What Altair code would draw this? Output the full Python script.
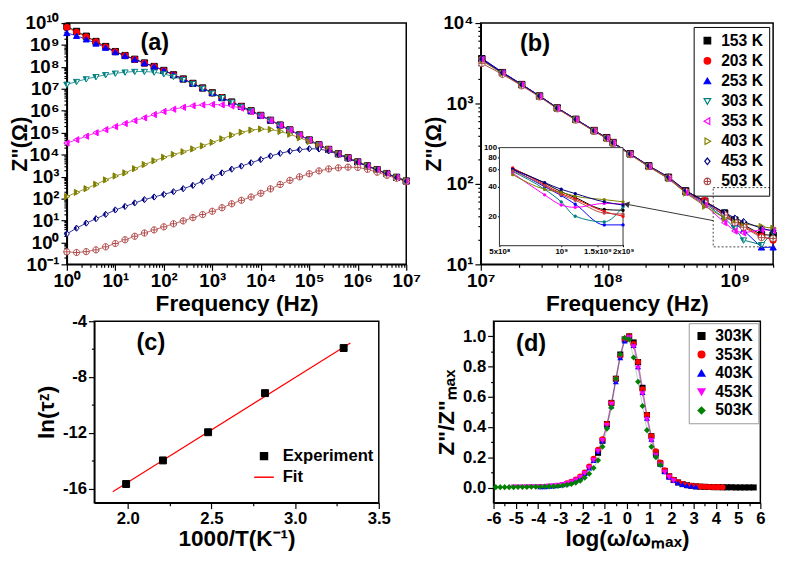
import json
import pandas as pd
import altair as alt

FONT = "Liberation Sans"

# ---------------- series styling (a), (b) ----------------
TEMPS = ["153 K", "203 K", "253 K", "303 K", "353 K", "403 K", "453 K", "503 K"]
COLORS = ["#000000", "#ff0000", "#0000ff", "#008080", "#ff00ff", "#808000", "#000080", "#b04848"]
FILLS = ["#000000", "#ff0000", "#0000ff", "white", "white", "white", "white", "white"]
TRI_DOWN = "M-1,-0.72L1,-0.72L0,1Z"
TRI_LEFT = "M-1,0L0.72,-1L0.72,1Z"
TRI_RIGHT = "M1,0L-0.72,-1L-0.72,1Z"
DIAMOND = "M0,-1L0.8,0L0,1L-0.8,0Z"
CIRC_PLUS = "M-1,0A1,1,0,1,1,1,0A1,1,0,1,1,-1,0Z M-1,0L1,0 M0,-1L0,1"
SHAPES = ["square", "circle", "triangle-up", TRI_DOWN, TRI_LEFT, TRI_RIGHT, DIAMOND, CIRC_PLUS]
HALF = {
    "303 K": "M-1,-0.72L0,-0.72L0,1Z",
    "353 K": "M-0.14,-0.5L0.72,-1L0.72,1L-0.14,0.5Z",
    "403 K": "M-0.72,-1L0.14,-0.5L0.14,0.5L-0.72,1Z",
    "453 K": "M0,-1L0,1L-0.8,0Z",
}

# ---------------- panel (a): log10 frequency / log10 Z'' ----------------
A_LOGF = [0.0, 0.2, 0.4, 0.6, 0.8, 1.0, 1.2, 1.4, 1.6, 1.8, 2.0, 2.2, 2.4, 2.6, 2.8, 3.0, 3.2, 3.4,
          3.6, 3.8, 4.0, 4.2, 4.4, 4.6, 4.8, 5.0, 5.2, 5.4, 5.6, 5.8, 6.0, 6.2, 6.4, 6.6, 6.8, 7.0]
a_153 = [9.85, 9.62, 9.40, 9.16, 8.93, 8.70, 8.52, 8.35, 8.18, 8.02, 7.84, 7.64, 7.45, 7.25, 7.04, 6.82, 6.60, 6.40,
         6.20, 6.00, 5.79, 5.57, 5.35, 5.13, 4.90, 4.67, 4.45, 4.24, 4.04, 3.86, 3.67, 3.49, 3.32, 3.14, 2.97, 2.80]
a_203 = [9.80, 9.58, 9.37, 9.14, 8.91, 8.69, 8.51, 8.34, 8.17, 8.01, 7.83, 7.63, 7.44, 7.24, 7.03, 6.81, 6.60, 6.39,
         6.19, 5.99, 5.78, 5.56, 5.34, 5.12, 4.89, 4.66, 4.44, 4.23, 4.03, 3.85, 3.66, 3.48, 3.31, 3.13, 2.96, 2.79]
a_253 = [9.55, 9.42, 9.26, 9.07, 8.88, 8.68, 8.51, 8.35, 8.18, 8.02, 7.85, 7.65, 7.45, 7.25, 7.04, 6.82, 6.60, 6.40,
         6.20, 6.00, 5.79, 5.57, 5.35, 5.13, 4.90, 4.67, 4.45, 4.24, 4.04, 3.86, 3.67, 3.49, 3.32, 3.14, 2.97, 2.80]
a_303 = [7.20, 7.33, 7.45, 7.55, 7.64, 7.71, 7.76, 7.79, 7.79, 7.76, 7.68, 7.56, 7.42, 7.23, 7.02, 6.80, 6.59, 6.39,
         6.19, 5.99, 5.78, 5.56, 5.34, 5.12, 4.89, 4.66, 4.44, 4.23, 4.03, 3.85, 3.66, 3.48, 3.31, 3.13, 2.96, 2.79]
a_353 = [4.53, 4.68, 4.84, 5.00, 5.14, 5.28, 5.42, 5.55, 5.68, 5.83, 5.97, 6.07, 6.16, 6.23, 6.27, 6.29, 6.27, 6.22,
         6.12, 5.96, 5.77, 5.56, 5.34, 5.12, 4.89, 4.66, 4.44, 4.23, 4.03, 3.85, 3.66, 3.48, 3.31, 3.13, 2.96, 2.79]
a_403 = [2.09, 2.28, 2.45, 2.65, 2.85, 3.03, 3.17, 3.36, 3.55, 3.72, 3.88, 4.01, 4.13, 4.26, 4.40, 4.56, 4.72, 4.89,
         5.02, 5.12, 5.17, 5.15, 5.06, 4.93, 4.77, 4.60, 4.42, 4.23, 4.03, 3.85, 3.66, 3.48, 3.31, 3.13, 2.96, 2.79]
a_453 = [0.39, 0.65, 0.88, 1.08, 1.28, 1.48, 1.64, 1.80, 1.95, 2.07, 2.19, 2.31, 2.45, 2.60, 2.79, 2.98, 3.17, 3.34,
         3.48, 3.63, 3.78, 3.94, 4.06, 4.16, 4.23, 4.27, 4.26, 4.17, 4.01, 3.82, 3.65, 3.48, 3.31, 3.13, 2.96, 2.79]
a_503 = [-0.43, -0.46, -0.42, -0.34, -0.20, -0.05, 0.12, 0.28, 0.43, 0.57, 0.71, 0.85, 0.98, 1.13, 1.27, 1.42, 1.58, 1.76,
         1.92, 2.07, 2.24, 2.44, 2.64, 2.83, 2.99, 3.13, 3.26, 3.35, 3.40, 3.43, 3.42, 3.33, 3.20, 3.06, 2.92, 2.77]
A_SERIES = [a_153, a_203, a_253, a_303, a_353, a_403, a_453, a_503]

# ---------------- panel (b): frequency (Hz) / Z'' (ohm) ----------------
B_FREQ = [1.02e7, 1.48e7, 2.1e7, 2.9e7, 4.0e7, 5.6e7, 7.8e7, 9.8e7, 1.1e8, 1.5e8,
          2.1e8, 3.0e8, 4.1e8, 5.8e8, 8.3e8, 1.0e9, 1.17e9, 1.62e9, 2.0e9]
b_153 = [3600, 2420, 1720, 1240, 880, 636, 461, 376, 327, 237, 168, 121, 82, 61, 43.5, 35.5, 31, 23.4, 23]
b_203 = [3550, 2400, 1710, 1235, 875, 632, 458, 373, 325, 235, 166, 120, 81, 62, 42, 34, 30, 22.3, 20]
b_253 = [3650, 2450, 1730, 1245, 882, 637, 460, 374, 326, 236, 166, 119, 80, 60, 40, 32.5, 26.5, 16.3, 16.3]
b_303 = [3450, 2380, 1700, 1230, 872, 630, 456, 371, 323, 234, 165, 118, 79, 57, 37.6, 28, 20, 17.5, 25]
b_353 = [3500, 2390, 1700, 1228, 870, 628, 455, 370, 322, 233, 164, 117, 78, 55, 33, 26, 24.6, 27, 26.5]
b_403 = [3400, 2360, 1690, 1222, 866, 625, 452, 368, 320, 231, 163, 116, 77, 53, 37.6, 35, 32, 29.5, 28]
b_453 = [3550, 2410, 1715, 1238, 878, 634, 459, 374, 326, 237, 168, 122, 83, 60, 44, 37.6, 34, 28, 26]
b_503 = [3150, 2300, 1660, 1210, 860, 622, 451, 367, 320, 232, 165, 119, 80, 58, 41, 33, 29, 21.5, 21]
B_SERIES = [b_153, b_203, b_253, b_303, b_353, b_403, b_453, b_503]
ZOOM_BOX = {"x1": [6.75e8], "x2": [2.0e9], "y1": [16.5], "y2": [90.0]}
ARROW = {"x1": [6.75e8], "y1": [35.0], "x2": [1.4e8], "y2": [56.0]}
INSET_FRAME = {"x1": [5e8], "x2": [2e9], "y1": [10.0], "y2": [100.0]}

# ---------------- panel (c) ----------------
C_X = [1.99, 2.21, 2.48, 2.82, 3.29]
C_Y = [-15.66, -13.97, -11.95, -9.15, -5.92]
FIT_X = [1.91, 3.33]
FIT_Y = [-16.22, -5.55]

# ---------------- panel (d) ----------------
D_TEMPS = ["303K", "353K", "403K", "453K", "503K"]
D_COLORS = ["#000000", "#ff0000", "#0000ff", "#ff00ff", "#008000"]
D_SHAPES = ["square", "circle", "triangle-up", "triangle-down", "diamond"]
D_X = [-5.9, -5.7, -5.5, -5.3, -5.1, -4.9, -4.7, -4.5, -4.3, -4.1, -3.9, -3.7, -3.5, -3.3, -3.1,
       -2.9, -2.7, -2.5, -2.3, -2.1, -1.9, -1.7, -1.5, -1.3, -1.1, -0.9, -0.7, -0.5, -0.3, -0.1,
       0.1, 0.3, 0.5, 0.7, 0.9, 1.1, 1.3, 1.5, 1.7, 1.9, 2.1, 2.3, 2.5, 2.7, 2.9, 3.1, 3.3, 3.5,
       3.7, 3.9, 4.1, 4.3, 4.5, 4.7, 4.9, 5.1, 5.3, 5.5, 5.7]
D_START = [-1.3, -2.7, -3.9, -5.1, -5.9]
d_303 = [0.23, 0.31, 0.42, 0.56, 0.72, 0.88, 0.98, 1.0, 0.96, 0.83, 0.66, 0.48, 0.34, 0.23, 0.16, 0.11, 0.075, 0.05,
         0.034, 0.023, 0.016, 0.011, 0.008, 0.006, 0.005, 0.004, 0.003, 0.003, 0.002, 0.002, 0.002, 0.001, 0.001,
         0.001, 0.001, 0.001]
d_353 = [0.028, 0.038, 0.054, 0.073, 0.10, 0.14, 0.19, 0.25, 0.32, 0.42, 0.56, 0.72, 0.87, 0.98, 1.0, 0.95, 0.83,
         0.65, 0.48, 0.34, 0.24, 0.165, 0.115, 0.076, 0.051, 0.035, 0.024, 0.016, 0.012, 0.009, 0.007, 0.005,
         0.004, 0.003, 0.003, 0.002]
d_403 = [0.006, 0.007, 0.009, 0.011, 0.014, 0.019, 0.026, 0.036, 0.051, 0.069, 0.094, 0.13, 0.18, 0.24, 0.31, 0.41,
         0.54, 0.70, 0.86, 0.97, 1.0, 0.94, 0.80, 0.63, 0.46, 0.32, 0.22, 0.155, 0.105, 0.07, 0.047, 0.032, 0.021,
         0.014, 0.010, 0.007]
d_453 = [0.003, 0.003, 0.003, 0.004, 0.004, 0.005, 0.006, 0.007, 0.009, 0.011, 0.014, 0.019, 0.026, 0.036, 0.05,
         0.068, 0.093, 0.13, 0.18, 0.24, 0.31, 0.41, 0.55, 0.71, 0.87, 0.98, 0.99, 0.93, 0.79, 0.62, 0.45, 0.31,
         0.21, 0.15, 0.10, 0.068, 0.045]
d_503 = [0.003, 0.003, 0.003, 0.003, 0.003, 0.004, 0.004, 0.004, 0.005, 0.005, 0.006, 0.007, 0.008, 0.009, 0.011,
         0.014, 0.018, 0.024, 0.033, 0.046, 0.065, 0.092, 0.13, 0.18, 0.27, 0.39, 0.53, 0.72, 0.88, 0.99, 0.98,
         0.86, 0.70, 0.54, 0.38, 0.27, 0.20, 0.15]
D_SERIES = [d_303, d_353, d_403, d_453, d_503]

PANEL_LABELS = ["(a)", "(b)", "(c)", "(d)"]

# ---------------- tables ----------------
df_a = pd.DataFrame([{"f": 10 ** lf, "z": 10 ** lz, "T": t}
                     for t, ys in zip(TEMPS, A_SERIES) for lf, lz in zip(A_LOGF, ys)])
df_b = pd.DataFrame([{"f": f, "z": z, "T": t}
                     for t, ys in zip(TEMPS, B_SERIES) for f, z in zip(B_FREQ, ys)])
df_c_pts = pd.DataFrame({"x": C_X, "y": C_Y, "kind": "Experiment"})
df_c_fit = pd.DataFrame({"x": FIT_X, "y": FIT_Y, "kind": "Fit"})
rows = []
for t, start, ys in zip(D_TEMPS, D_START, D_SERIES):
    i0 = D_X.index(start)
    for x, y in zip(D_X[i0:i0 + len(ys)], ys):
        rows.append({"x": x, "y": y, "Td": t})
df_d = pd.DataFrame(rows)

# ---------------- axis helpers ----------------
SUP = str.maketrans("-0123456789", "⁻⁰¹²³⁴⁵⁶⁷⁸⁹")


def log_axis(lo, hi, title, minors, **kw):
    majors = [10.0 ** e for e in range(lo, hi + 1)]
    e_expr = "round(log(datum.value) / LN10)"
    test = "abs(log(datum.value) / LN10 - " + e_expr + ") < 0.001"
    labels = json.dumps(["10" + str(e).translate(SUP) for e in range(lo, hi + 1)], ensure_ascii=False)
    return alt.Axis(values=majors + minors, title=title,
                    labelExpr=f"({test}) ? {labels}[{e_expr} - ({lo})] : ''",
                    tickSize={"condition": {"test": test, "value": 6}, "value": 3},
                    labelOverlap=False, labelFlush=False, **kw)


def lin_axis(values, test, label, title, **kw):
    return alt.Axis(values=values, title=title, labelExpr=f"({test}) ? {label} : ''",
                    tickSize={"condition": {"test": test, "value": 6}, "value": 3},
                    labelOverlap=False, labelFlush=False, **kw)


W_A, W_B, W_C, W_D = 346, 298, 290, 272
H_TOP, H_BOT = 246, 185


def panel_label(text, px, py):
    return alt.Chart(pd.DataFrame({"label": [text]})).mark_text(
        font=FONT, fontSize=24, fontWeight="bold", color="black", align="left", baseline="alphabetic"
    ).encode(text="label:N", x=alt.value(px), y=alt.value(py))


def series_layers(df, X, Y, size, leg, line_w):
    stroke = alt.Stroke("T:N", scale=alt.Scale(domain=TEMPS, range=COLORS), legend=leg)
    fill = alt.Fill("T:N", scale=alt.Scale(domain=TEMPS, range=FILLS), legend=leg)
    shape = alt.Shape("T:N", scale=alt.Scale(domain=TEMPS, range=SHAPES), legend=leg)
    base = alt.Chart(df)
    lines = base.mark_line(strokeWidth=line_w).encode(x=X("f"), y=Y("z"), stroke=stroke)
    pts = base.mark_point(size=size, strokeWidth=1, opacity=1).encode(
        x=X("f"), y=Y("z"), stroke=stroke, fill=fill, shape=shape)
    halves = [base.transform_filter(alt.datum.T == t).mark_point(
        shape=HALF[t], filled=True, color=COLORS[TEMPS.index(t)], size=size, opacity=1, strokeWidth=0
    ).encode(x=X("f"), y=Y("z")) for t in HALF]
    return [lines, pts] + halves


# ---------------- panel (a) ----------------
a_xminor = [k * 10.0 ** e for e in range(0, 7) for k in range(2, 10)]
a_yminor = [k * 10.0 ** e for e in range(-1, 10) for k in range(2, 10)]
AX = log_axis(0, 7, "Frequency (Hz)", a_xminor, labelFontSize=19, titleFontSize=23, labelPadding=2, titlePadding=2)
AY = log_axis(-1, 10, 'Z"(Ω)', a_yminor, labelFontSize=19, titleFontSize=22, labelPadding=2, titleX=-36)


def XA(field):
    return alt.X(f"{field}:Q", scale=alt.Scale(type="log", domain=[1, 1e7], nice=False), axis=AX)


def YA(field):
    return alt.Y(f"{field}:Q", scale=alt.Scale(type="log", domain=[0.1, 1e10], nice=False), axis=AY)


panel_a = alt.layer(*series_layers(df_a, XA, YA, 40, None, 0.8),
                    panel_label(PANEL_LABELS[0], 75, 27)).properties(width=W_A, height=H_TOP)

# ---------------- panel (b) ----------------
b_xminor = [k * 10.0 ** e for e in (7, 8) for k in range(2, 10)] + [2e9]
b_yminor = [k * 10.0 ** e for e in (1, 2, 3) for k in range(2, 10)]
BX = log_axis(7, 9, "Frequency (Hz)", b_xminor, labelFontSize=19, titleFontSize=23, labelPadding=2, titlePadding=2)
BY = log_axis(1, 4, 'Z"(Ω)', b_yminor, labelFontSize=19, titleFontSize=22, labelPadding=2, titleX=-36)


def XB(field):
    return alt.X(f"{field}:Q", scale=alt.Scale(type="log", domain=[1e7, 2e9], nice=False), axis=BX)


def YB(field):
    return alt.Y(f"{field}:Q", scale=alt.Scale(type="log", domain=[10, 1e4], nice=False), axis=BY)


LEG_B = alt.Legend(orient="top-right", offset=4, title=None, padding=6, strokeColor="black",
                   labelFontSize=16, labelFont=FONT, labelFontWeight="bold", labelColor="black",
                   symbolSize=45, symbolStrokeWidth=1.2, symbolOpacity=1, rowPadding=4.5, labelOffset=6)
box = alt.Chart(pd.DataFrame(ZOOM_BOX)).mark_rect(fill="transparent", stroke="#444", strokeDash=[2, 2],
                                                   strokeWidth=1).encode(x=XB("x1"), x2="x2", y=YB("y1"), y2="y2")
arrow_line = alt.Chart(pd.DataFrame(ARROW)).mark_rule(color="#333", strokeWidth=1).encode(
    x=XB("x1"), y=YB("y1"), x2="x2", y2="y2")
arrow_head = alt.Chart(pd.DataFrame(ARROW)).mark_point(shape="triangle-left", angle=11, filled=True,
                                                        color="#333", size=45, opacity=1).encode(
    x=XB("x2"), y=YB("y2"))
b_main = alt.layer(*series_layers(df_b, XB, YB, 42, LEG_B, 1.0), box, arrow_line, arrow_head,
                   panel_label(PANEL_LABELS[1], 40, 29))

IX_AXIS = alt.Axis(orient="bottom", offset=-20, values=[5e8, 1e9, 1.5e9, 2e9], title=None,
                   labelExpr="datum.value < 7e8 ? '5x10⁸' : datum.value < 1.2e9 ? '10⁹' : "
                             "datum.value < 1.7e9 ? '1.5x10⁹' : '2x10⁹'",
                   labelFontSize=8, tickSize=2, labelPadding=1, domainWidth=1, tickWidth=1,
                   labelOverlap=False, labelFlush=False)
IY_AXIS = alt.Axis(orient="left", offset=-19, values=[20, 40, 60, 80, 100], format="d", title=None,
                   labelFontSize=8, tickSize=2, labelPadding=1, domainWidth=1, tickWidth=1,
                   labelOverlap=False, labelFlush=False)


def XI(field):
    return alt.X(f"{field}:Q", scale=alt.Scale(type="log", domain=[5e8, 2e9], range=[19, 145], nice=False),
                 axis=IX_AXIS)


def YI(field):
    return alt.Y(f"{field}:Q", scale=alt.Scale(type="log", domain=[10, 100], range=[227, 127], nice=False),
                 axis=IY_AXIS)


inset_color = alt.Color("T:N", scale=alt.Scale(domain=TEMPS, range=COLORS), legend=None)
inset_frame = alt.Chart(pd.DataFrame(INSET_FRAME)).mark_rect(fill="white", stroke="#333", strokeWidth=1).encode(
    x=XI("x1"), x2="x2", y=YI("y1"), y2="y2")
inset_base = alt.Chart(df_b).transform_filter("datum.f >= 5e8")
inset_lines = inset_base.mark_line(strokeWidth=1, interpolate="monotone").encode(
    x=XI("f"), y=YI("z"), color=inset_color)
inset_pts = inset_base.mark_point(filled=True, size=12, opacity=1).encode(x=XI("f"), y=YI("z"), color=inset_color)
b_inset = alt.layer(inset_frame, inset_lines, inset_pts)

panel_b = alt.layer(b_main, b_inset).resolve_scale(x="independent", y="independent").properties(
    width=W_B, height=H_TOP)

# ---------------- panel (c) ----------------
CX = lin_axis([2.0, 2.25, 2.5, 2.75, 3.0, 3.25, 3.5], "abs(datum.value*2 - round(datum.value*2)) < 0.001",
              "format(datum.value, '.1f')", "1000/T(K⁻¹)", labelFontSize=17, titleFontSize=23, titlePadding=2)
CY = lin_axis([-4, -6, -8, -10, -12, -14, -16], "abs(datum.value/4 - round(datum.value/4)) < 0.001",
              "'' + datum.value", "ln(τᶻ)", labelFontSize=17, titleFontSize=23)
xc = alt.X("x:Q", scale=alt.Scale(domain=[1.8, 3.5], nice=False, zero=False), axis=CX)
yc = alt.Y("y:Q", scale=alt.Scale(domain=[-17, -4], nice=False, zero=False), axis=CY)
KINDS = ["Experiment", "Fit"]
LEG_C = alt.Legend(orient="none", legendX=162, legendY=129, title=None, padding=0, labelFontSize=17,
                   labelFont=FONT, labelFontWeight="bold", labelColor="black", symbolStrokeWidth=1.5,
                   symbolOpacity=1, rowPadding=2, labelOffset=8)
c_fit = alt.Chart(df_c_fit).mark_line(strokeWidth=1.2).encode(
    x=xc, y=yc, stroke=alt.Stroke("kind:N", scale=alt.Scale(domain=KINDS, range=["black", "red"]), legend=LEG_C))
c_pts = alt.Chart(df_c_pts).mark_point(opacity=1, strokeWidth=1).encode(
    x=xc, y=yc,
    stroke=alt.Stroke("kind:N", scale=alt.Scale(domain=KINDS, range=["black", "red"]), legend=LEG_C),
    fill=alt.Fill("kind:N", scale=alt.Scale(domain=KINDS, range=["black", "red"]), legend=LEG_C),
    shape=alt.Shape("kind:N", scale=alt.Scale(domain=KINDS, range=["square", "stroke"]), legend=LEG_C),
    size=alt.Size("kind:O", scale=alt.Scale(domain=KINDS, range=[50, 400]), legend=LEG_C))
panel_c = alt.layer(c_fit, c_pts, panel_label(PANEL_LABELS[2], 43, 29)).properties(width=W_C, height=H_BOT)

# ---------------- panel (d) ----------------
DX = lin_axis([-6 + 0.5 * i for i in range(25)], "abs(datum.value - round(datum.value)) < 0.001",
              "'' + round(datum.value)", "log(ω/ωₘₐₓ)", labelFontSize=17, titleFontSize=23, titlePadding=2)
DY = lin_axis([round(0.1 * i, 1) for i in range(11)], "abs(datum.value*5 - round(datum.value*5)) < 0.001",
              "format(datum.value, '.1f')", 'Z"/Z"ₘₐₓ', labelFontSize=17, titleFontSize=23)
xd = alt.X("x:Q", scale=alt.Scale(domain=[-6, 6], nice=False, zero=False), axis=DX)
yd = alt.Y("y:Q", scale=alt.Scale(domain=[-0.1, 1.1], nice=False, zero=False), axis=DY)
LEG_D = alt.Legend(orient="top-right", offset=2, title=None, padding=5, strokeColor="#999",
                   labelFontSize=16, labelFont=FONT, labelFontWeight="bold", labelColor="black",
                   symbolSize=45, symbolOpacity=1, rowPadding=3, labelOffset=6)
d_color = alt.Color("Td:N", scale=alt.Scale(domain=D_TEMPS, range=D_COLORS), legend=LEG_D)
d_shape = alt.Shape("Td:N", scale=alt.Scale(domain=D_TEMPS, range=D_SHAPES), legend=LEG_D)
d_lines = alt.Chart(df_d).mark_line(strokeWidth=0.6, opacity=0.5).encode(x=xd, y=yd, color=d_color)
d_pts = alt.Chart(df_d).mark_point(filled=True, size=38, opacity=1).encode(x=xd, y=yd, color=d_color, shape=d_shape)
panel_d = alt.layer(d_lines, d_pts, panel_label(PANEL_LABELS[3], 23, 30)).properties(width=W_D, height=H_BOT)

# ---------------- layout ----------------
RES = dict(stroke="independent", fill="independent", shape="independent", color="independent",
           size="independent")
col1 = alt.vconcat(panel_a, panel_c, spacing=58, center=True, bounds="flush").resolve_scale(**RES)
col2 = alt.vconcat(panel_b, panel_d, spacing=58, center=True, bounds="flush").resolve_scale(**RES)
chart = alt.hconcat(col1, col2, spacing=0).resolve_scale(**RES).properties(
    padding=0, background="white"
).configure_view(stroke="black", strokeWidth=1.5).configure_axis(
    labelFont=FONT, titleFont=FONT, labelFontWeight="bold", titleFontWeight="bold",
    labelColor="black", titleColor="black", domainColor="black", tickColor="black",
    domainWidth=1.5, tickWidth=1.2, grid=False
)

chart.save("out.html", embed_options={"renderer": "svg", "actions": False})
